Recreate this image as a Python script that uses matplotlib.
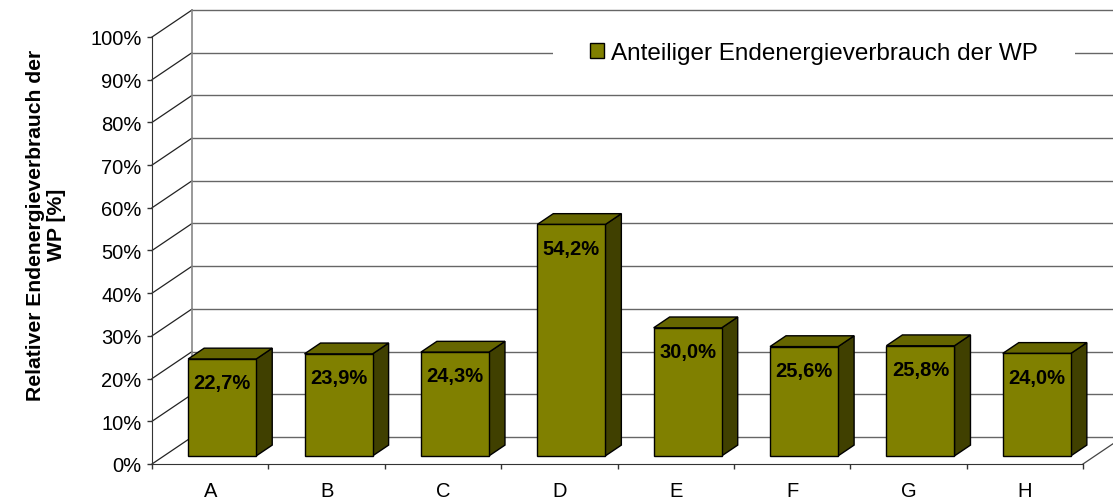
import matplotlib
matplotlib.use("Agg")
import matplotlib.pyplot as plt
from matplotlib.patches import Polygon, Patch, Rectangle

# Daten
kategorien = ["A", "B", "C", "D", "E", "F", "G", "H"]
anteil = [22.7, 23.9, 24.3, 54.2, 30.0, 25.6, 25.8, 24.0]
y_ticks = [0, 10, 20, 30, 40, 50, 60, 70, 80, 90, 100]
legende = "Anteiliger Endenergieverbrauch der WP"
y_titel = "Relativer Endenergieverbrauch der\nWP [%]"

plt.rcParams["font.family"] = ["Liberation Sans", "DejaVu Sans"]

W, H = 1113, 502
fig = plt.figure(figsize=(W / 100, H / 100), dpi=100)
ax = fig.add_axes([152 / W, 37 / H, 931 / W, 427 / H])
ax.set_xlim(0, len(kategorien))
ax.set_ylim(0, 100)

# Tiefe des Diagramms (Versatz der Rückwand in Dateneinheiten)
px_x = 931 / len(kategorien)
px_y = 427 / 100
DX = 40 / px_x
DY = 27 / px_y

n = len(kategorien)
grid_col = "#666666"
for v in y_ticks:
    ax.plot([DX, n + DX], [v + DY, v + DY], color=grid_col, lw=1, zorder=1, clip_on=False)
    ax.plot([0, DX], [v, v + DY], color="#222222", lw=0.9, zorder=1, clip_on=False)
ax.plot([DX, DX], [DY, 100 + DY], color="#888888", lw=1.2, zorder=1, clip_on=False)
ax.plot([n, n + DX], [0, DY], color="#444444", lw=0.9, zorder=1, clip_on=False)

# Säulen
front_c, top_c, side_c = "#808000", "#666600", "#404000"
breite = 0.585
f0, f1 = 0.3, 0.7
for i, v in enumerate(anteil):
    x0 = i + 0.5 - breite / 2
    x1 = x0 + breite
    ox0, oy0 = f0 * DX, f0 * DY
    ox1, oy1 = f1 * DX, f1 * DY
    front = [(x0 + ox0, oy0), (x1 + ox0, oy0), (x1 + ox0, v + oy0), (x0 + ox0, v + oy0)]
    side = [(x1 + ox0, oy0), (x1 + ox1, oy1), (x1 + ox1, v + oy1), (x1 + ox0, v + oy0)]
    top = [(x0 + ox0, v + oy0), (x1 + ox0, v + oy0), (x1 + ox1, v + oy1), (x0 + ox1, v + oy1)]
    for pts, c in ((side, side_c), (top, top_c), (front, front_c)):
        ax.add_patch(Polygon(pts, closed=True, facecolor=c, edgecolor="black",
                             lw=1, zorder=3, clip_on=False, joinstyle="miter"))
    ax.text((x0 + x1) / 2 + ox0, v + oy0 - 3.3, f"{v:.1f}%".replace(".", ","),
            ha="center", va="top", fontsize=14.5, fontweight="bold", zorder=4)

# Achsen
for s in ("top", "right"):
    ax.spines[s].set_visible(False)
ax.spines["left"].set_color("#333333")
ax.spines["bottom"].set_color("#333333")
ax.spines["left"].set_zorder(2)
ax.spines["bottom"].set_zorder(2)
ax.set_yticks(y_ticks)
ax.set_yticklabels([f"{v}%" for v in y_ticks])
ax.tick_params(axis="y", direction="out", length=3.6, width=1, color="#333333",
               labelsize=14.5, pad=4)
ax.set_xticks(range(n + 1))
ax.set_xticklabels([""] * (n + 1))
ax.set_xticks([i + 0.5 for i in range(n)], minor=True)
ax.set_xticklabels(kategorien, minor=True)
ax.tick_params(axis="x", which="major", direction="out", length=3.6, width=1, color="#333333")
ax.tick_params(axis="x", which="minor", length=0, labelsize=14.5, pad=12)
ax.patch.set_visible(False)

fig.text(46 / W, 1 - 225 / H, y_titel, rotation=90, ha="center", va="center",
         multialignment="center", fontsize=15.2, fontweight="bold", linespacing=1.1)

# Legende mit weißem Hintergrund
fig.patches.append(Rectangle((553 / W, 1 - 80 / H), 522 / W, 50 / H,
                             transform=fig.transFigure, facecolor="white",
                             edgecolor="none", zorder=1))
leg = fig.legend(handles=[Patch(facecolor=front_c, edgecolor="black", lw=1, label=legende)],
                 loc="center", bbox_to_anchor=(814 / W, 1 - 54 / H),
                 frameon=False, fontsize=17.5, handlelength=0.6, handleheight=0.6,
                 handletextpad=0.3, borderpad=0.3)
leg.set_zorder(5)

fig.savefig("out.png", dpi=100)
